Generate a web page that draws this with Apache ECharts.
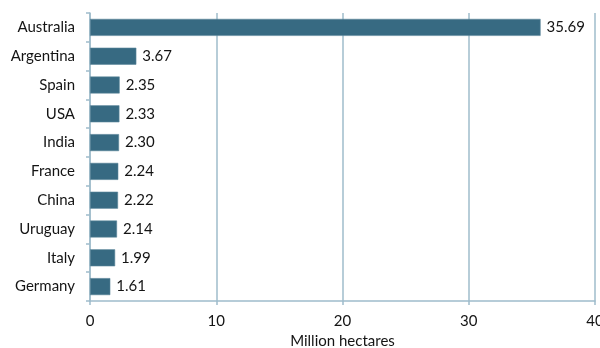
<!DOCTYPE html>
<html>
<head>
<meta charset="utf-8">
<script src="https://cdn.jsdelivr.net/npm/echarts@6/dist/echarts.min.js"></script>
<style>
  html, body { margin: 0; padding: 0; background: #fff; }
  #chart { width: 600px; height: 348px; }
</style>
</head>
<body>
<div id="chart"></div>
<script>
// Countries, listed top to bottom
const countries = ['Australia', 'Argentina', 'Spain', 'USA', 'India', 'France', 'China', 'Uruguay', 'Italy', 'Germany'];
// Area in million hectares, same order
const areas = [35.69, 3.67, 2.35, 2.33, 2.30, 2.24, 2.22, 2.14, 1.99, 1.61];
// Value axis ticks
const xTicks = [0, 10, 20, 30, 40];

const lineColor = '#9fbccb';
const textColor = '#141414';
const font = 'Lato, "Open Sans", sans-serif';
const fontSize = 15;

const chart = echarts.init(document.getElementById('chart'));
chart.setOption({
  animation: false,
  grid: { left: 90, right: 5, top: 13, bottom: 47, containLabel: false, outerBoundsMode: 'none' },
  xAxis: {
    type: 'value',
    min: xTicks[0],
    max: xTicks[xTicks.length - 1],
    interval: xTicks[1] - xTicks[0],
    name: 'Million hectares',
    nameLocation: 'middle',
    nameGap: 33,
    nameTextStyle: { color: textColor, fontSize: fontSize, fontFamily: font },
    axisLine: { show: true, lineStyle: { color: lineColor, width: 1.5 } },
    axisTick: { show: true, length: 4, lineStyle: { color: lineColor, width: 1.5 } },
    axisLabel: { color: textColor, fontSize: fontSize, fontFamily: font, margin: 13 },
    splitLine: { show: true, lineStyle: { color: lineColor, width: 1.5 } }
  },
  yAxis: {
    type: 'category',
    data: countries,
    inverse: true,
    axisLine: { show: true, lineStyle: { color: lineColor, width: 1.5 } },
    axisTick: { show: true, length: 4, lineStyle: { color: lineColor, width: 1.5 } },
    axisLabel: { color: textColor, fontSize: fontSize, fontFamily: font, margin: 15 },
    splitLine: { show: false }
  },
  series: [{
    type: 'bar',
    data: areas,
    barWidth: 17,
    itemStyle: { color: '#376a82', borderColor: '#5d879a', borderWidth: 0.6 },
    label: {
      show: true,
      position: 'right',
      distance: 6,
      color: textColor,
      fontSize: fontSize,
      fontFamily: font,
      formatter: p => p.value.toFixed(2)
    }
  }]
});
</script>
</body>
</html>
